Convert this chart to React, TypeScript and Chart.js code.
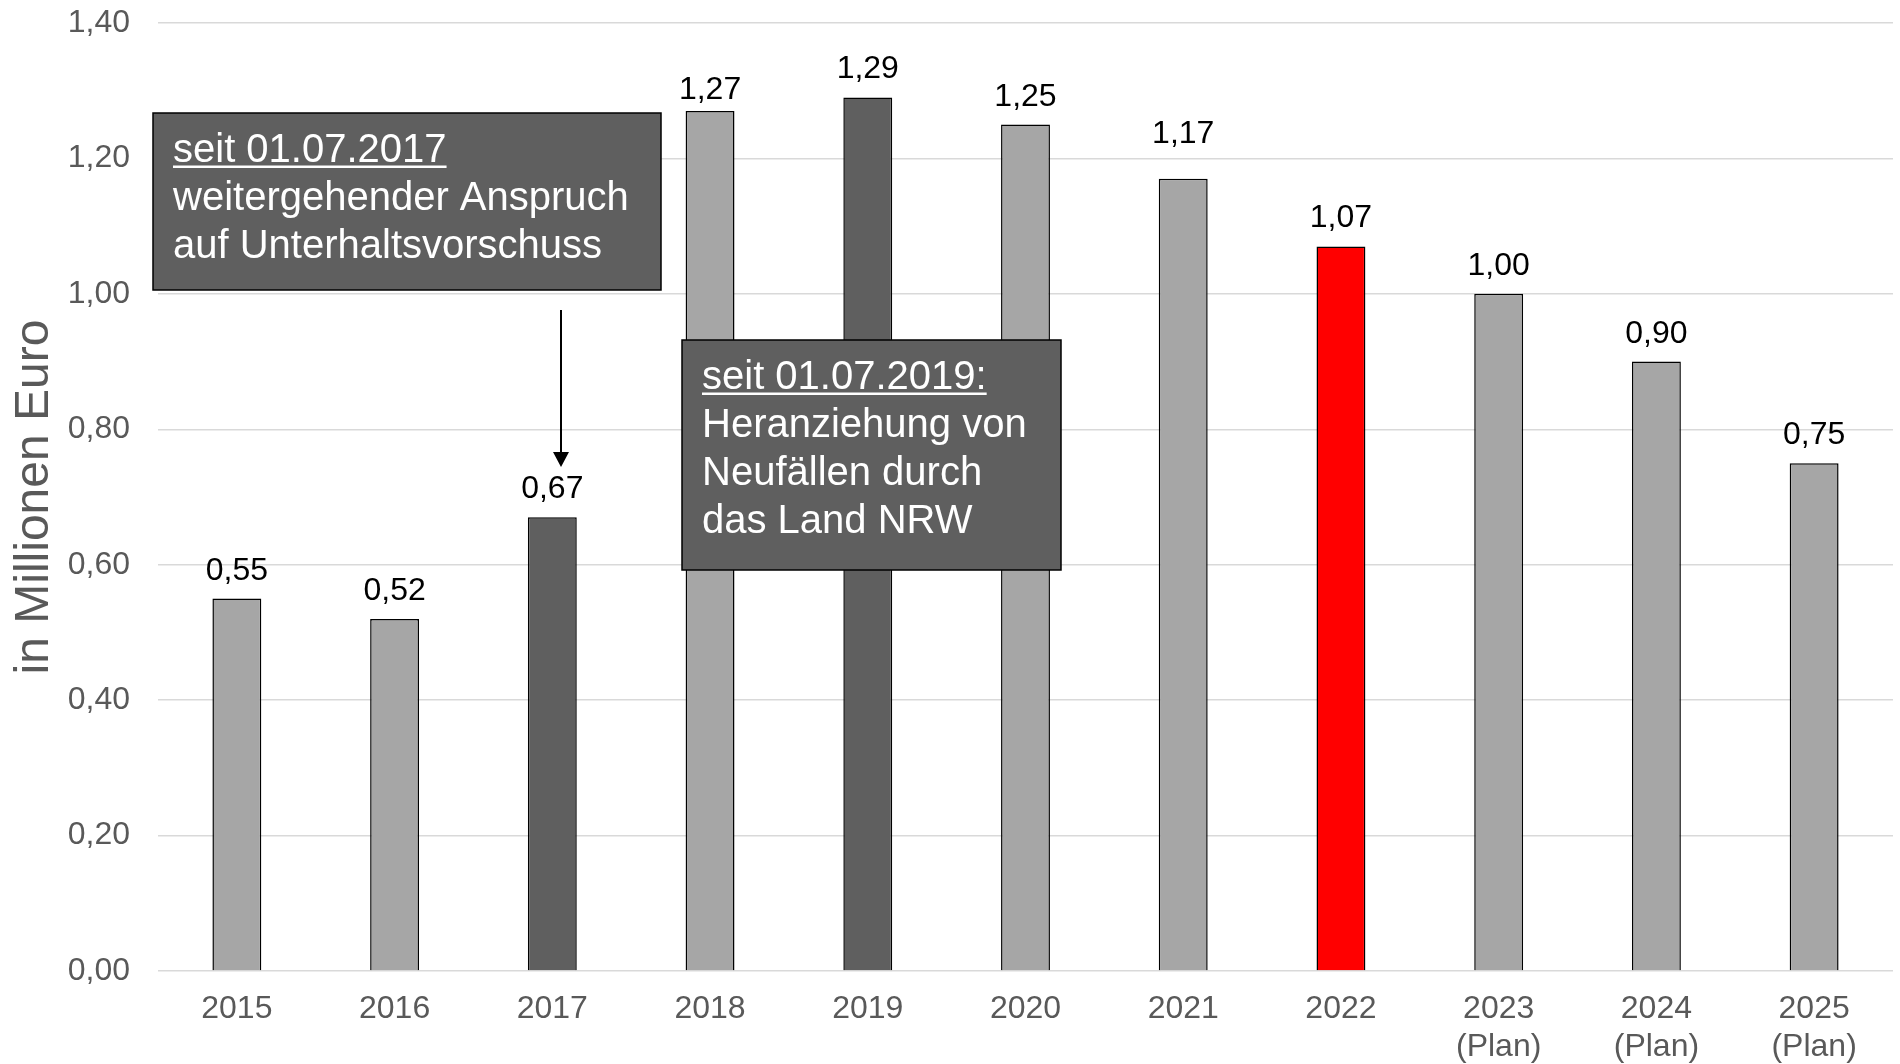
import { useEffect, useRef } from "react";
import { Chart, registerables } from "chart.js";

Chart.register(...registerables);

const categories: (string | string[])[] = [
  "2015", "2016", "2017", "2018", "2019", "2020", "2021", "2022",
  ["2023", "(Plan)"], ["2024", "(Plan)"], ["2025", "(Plan)"],
];
const values = [0.55, 0.52, 0.67, 1.27, 1.29, 1.25, 1.17, 1.07, 1.0, 0.9, 0.75];
const barColors = [
  "#a6a6a6", "#a6a6a6", "#5f5f5f", "#a6a6a6", "#5f5f5f", "#a6a6a6",
  "#a6a6a6", "#ff0000", "#a6a6a6", "#a6a6a6", "#a6a6a6",
];
const yAxisTitle = "in Millionen Euro";
const note1Lines = ["seit 01.07.2017", "weitergehender Anspruch", "auf Unterhaltsvorschuss"];
const note2Lines = ["seit 01.07.2019:", "Heranziehung von", "Neufällen durch", "das Land NRW"];

// label gap above each bar (px) — a few labels were nudged in the original
const labelGap = [19, 19, 19, 12, 19, 19, 36, 19, 19, 19, 19];

const FONT = '"Liberation Sans", Arial, Helvetica, sans-serif';
const fmt = (v: number) => v.toFixed(2).replace(".", ",");

const dataLabelPlugin = {
  id: "dataLabels",
  afterDatasetsDraw(chart: any) {
    const ctx = chart.ctx;
    const meta = chart.getDatasetMeta(0);
    ctx.save();
    ctx.font = `32px ${FONT}`;
    ctx.fillStyle = "#000000";
    ctx.textAlign = "center";
    ctx.textBaseline = "alphabetic";
    meta.data.forEach((bar: any, i: number) => {
      ctx.fillText(fmt(values[i]), bar.x, bar.y - labelGap[i]);
    });
    ctx.restore();
  },
};

const notesPlugin = {
  id: "notes",
  afterDraw(chart: any) {
    const ctx = chart.ctx;
    ctx.save();
    const drawBox = (x: number, y: number, w: number, h: number, lines: string[]) => {
      ctx.fillStyle = "#5f5f5f";
      ctx.fillRect(x, y, w, h);
      ctx.strokeStyle = "#000000";
      ctx.lineWidth = 1.5;
      ctx.strokeRect(x, y, w, h);
      ctx.font = `40px ${FONT}`;
      ctx.fillStyle = "#ffffff";
      ctx.textAlign = "left";
      ctx.textBaseline = "alphabetic";
      lines.forEach((t, i) => {
        const by = y + 48.5 + i * 48;
        ctx.fillText(t, x + 20, by);
        if (i === 0) {
          const tw = ctx.measureText(t).width;
          ctx.fillRect(x + 20, by + 4, tw, 2.5);
        }
      });
    };
    drawBox(153, 113, 508, 177, note1Lines);
    drawBox(682, 340, 379, 230, note2Lines);

    // arrow
    ctx.strokeStyle = "#000000";
    ctx.fillStyle = "#000000";
    ctx.lineWidth = 2;
    ctx.beginPath();
    ctx.moveTo(561, 310);
    ctx.lineTo(561, 454);
    ctx.stroke();
    ctx.beginPath();
    ctx.moveTo(553, 452);
    ctx.lineTo(569, 452);
    ctx.lineTo(561, 467);
    ctx.closePath();
    ctx.fill();
    ctx.restore();
  },
};

export default function App() {
  const canvasRef = useRef<HTMLCanvasElement | null>(null);

  useEffect(() => {
    if (!canvasRef.current) return;
    const chart = new Chart(canvasRef.current, {
      type: "bar",
      data: {
        labels: categories as any,
        datasets: [
          {
            data: values,
            backgroundColor: barColors,
            borderColor: "#000000",
            borderWidth: 1.5,
            borderSkipped: "bottom",
            categoryPercentage: 1,
            barPercentage: 0.31,
          },
        ],
      },
      options: {
        animation: false,
        responsive: false,
        devicePixelRatio: 1,
        layout: { padding: { top: 23, right: 7, bottom: 0, left: 0 } },
        plugins: {
          legend: { display: false },
          tooltip: { enabled: false },
          title: { display: false },
        },
        scales: {
          x: {
            grid: { display: false, drawTicks: false },
            border: { display: false },
            ticks: {
              color: "#595959",
              font: { family: FONT, size: 32 },
              padding: 19,
              maxRotation: 0,
              autoSkip: false,
            },
            afterFit: (scale: any) => {
              scale.height = 93;
              scale.paddingLeft = 0;
              scale.paddingRight = 0;
            },
          },
          y: {
            min: 0,
            max: 1.4,
            grid: { color: "#d9d9d9", lineWidth: 1.5, drawTicks: false },
            border: { display: false },
            ticks: {
              stepSize: 0.2,
              color: "#595959",
              font: { family: FONT, size: 32 },
              padding: 28,
              callback: (v: any) => fmt(Number(v)),
            },
            title: {
              display: true,
              text: yAxisTitle,
              color: "#595959",
              font: { family: FONT, size: 48 },
              padding: { top: 6, bottom: 0 },
            },
            afterFit: (scale: any) => {
              scale.width = 158;
              scale.paddingTop = 0;
              scale.paddingBottom = 0;
            },
          },
        },
      },
      plugins: [dataLabelPlugin, notesPlugin],
    });
    return () => chart.destroy();
  }, []);

  return (
    <div style={{ position: "absolute", left: 0, top: 0, width: 1900, height: 1064, background: "#ffffff" }}>
      <canvas ref={canvasRef} width={1900} height={1064} style={{ display: "block", width: 1900, height: 1064 }} />
    </div>
  );
}
